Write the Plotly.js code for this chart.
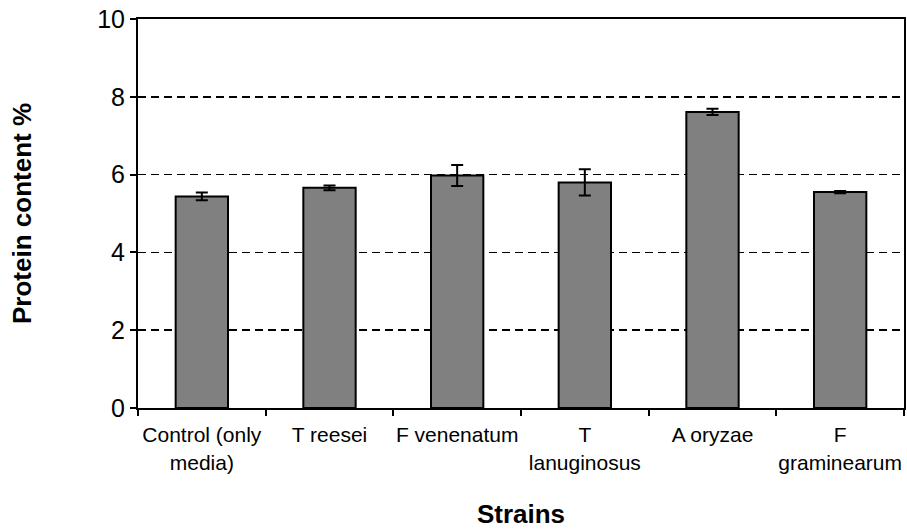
<!DOCTYPE html>
<html>
<head>
<meta charset="utf-8">
<script src="https://cdn.plot.ly/plotly-3.0.1.min.js"></script>
<style>html,body{margin:0;padding:0;background:#fff;}#chart{width:907px;height:529px;}</style>
</head>
<body>
<div id="chart"></div>
<script>
const strains = ["Control (only<br>media)", "T reesei", "F venenatum", "T<br>lanuginosus", "A oryzae", "F<br>graminearum"];
const protein = [5.44, 5.66, 5.98, 5.80, 7.61, 5.55];
const errors = [0.10, 0.06, 0.27, 0.34, 0.08, 0.03];
const yTicks = [0, 2, 4, 6, 8, 10];

const trace = {
  type: "bar",
  x: strains,
  y: protein,
  marker: {color: "#808080", line: {color: "#000", width: 2}},
  error_y: {type: "data", array: errors, visible: true, color: "#000", thickness: 2, width: 6},
  hoverinfo: "skip"
};

const layout = {
  width: 907, height: 529,
  margin: {l: 138, r: 3, t: 19, b: 121},
  paper_bgcolor: "#fff", plot_bgcolor: "#fff",
  font: {family: "Liberation Sans, Arial, sans-serif", color: "#000"},
  showlegend: false,
  bargap: 0.59,
  xaxis: {
    type: "category",
    tickson: "boundaries",
    tickangle: 0,
    ticks: "outside", ticklen: 6, tickwidth: 2, tickcolor: "#000",
    showline: true, linecolor: "#000", linewidth: 2, mirror: true,
    showgrid: false,
    ticklabelstandoff: 7,
    tickfont: {size: 21, color: "#000"},
    title: {text: "<b>Strains</b>", font: {size: 26, color: "#000"}, standoff: 34}
  },
  yaxis: {
    range: [0, 10],
    tickvals: yTicks,
    ticktext: yTicks.map(String),
    ticks: "outside", ticklen: 6, tickwidth: 2, tickcolor: "#000",
    showline: true, linecolor: "#000", linewidth: 2, mirror: true,
    showgrid: true, gridcolor: "#000", gridwidth: 1.5, griddash: "8px,5px",
    zeroline: false,
    tickfont: {size: 25, color: "#000"},
    title: {text: "<b>Protein content %</b>", font: {size: 26, color: "#000"}, standoff: 58}
  }
};

Plotly.newPlot("chart", [trace], layout, {displayModeBar: false, staticPlot: true});
</script>
</body>
</html>
